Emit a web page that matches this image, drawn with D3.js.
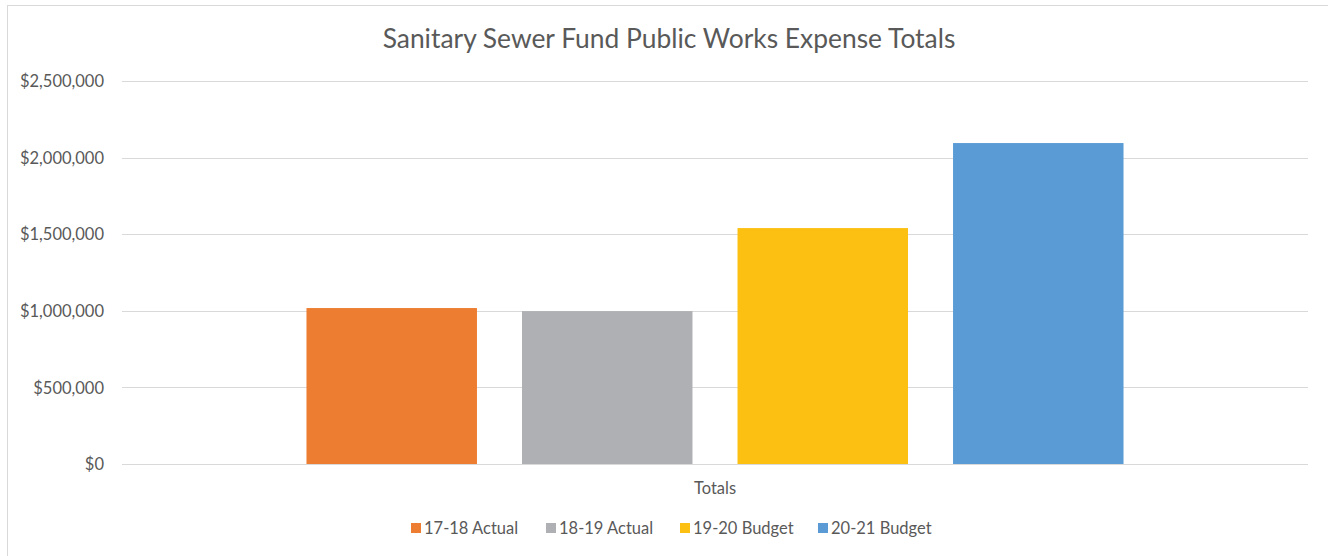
<!DOCTYPE html>
<html>
<head>
<meta charset="utf-8">
<script src="https://cdn.jsdelivr.net/npm/d3@7"></script>
<style>
  body { margin: 0; background: #fff; font-family: Lato, "Open Sans", sans-serif; }
  .grid line { stroke: #d9d9d9; stroke-width: 1px; shape-rendering: crispEdges; }
  .grid path { display: none; }
  .yaxis path, .yaxis line { display: none; }
  .yaxis text { fill: #595959; font-size: 16.5px; font-family: Lato, sans-serif; }
  .title { fill: #595959; font-size: 26.4px; }
  .cat { fill: #595959; font-size: 16.5px; }
  .legend text { fill: #595959; font-size: 16.5px; }
</style>
</head>
<body>
<svg id="chart" width="1328" height="556"></svg>
<script>
// values
var categories = ["Totals"];
var seriesNames = ["17-18 Actual", "18-19 Actual", "19-20 Budget", "20-21 Budget"];
var seriesValues = [1018000, 998000, 1540000, 2095000];
var seriesColors = ["#ed7d31", "#afb0b3", "#fbc012", "#5b9bd5"];
var yTicks = [0, 500000, 1000000, 1500000, 2000000, 2500000];

var svg = d3.select("#chart");
var plotLeft = 122, plotRight = 1308, plotTop = 81, plotBottom = 464;

// outer chart frame
svg.append("rect")
    .attr("x", 7.5).attr("y", 5.5)
    .attr("width", 1340).attr("height", 600)
    .attr("fill", "none").attr("stroke", "#d9d9d9");

var y = d3.scaleLinear().domain([0, 2500000]).range([plotBottom, plotTop]);
var x0 = d3.scaleBand().domain(categories).range([plotLeft, plotRight])
    .paddingInner(0).paddingOuter(0.2258);
var x1 = d3.scaleBand().domain(seriesNames).range([0, x0.bandwidth()])
    .paddingInner(0.209).paddingOuter(0);

svg.append("g").attr("class", "grid")
    .attr("transform", "translate(" + plotLeft + ",0)")
    .call(d3.axisLeft(y).tickValues(yTicks).tickSize(-(plotRight - plotLeft)).tickFormat(""));

svg.append("g").attr("class", "yaxis")
    .attr("transform", "translate(" + plotLeft + ",0)")
    .call(d3.axisLeft(y).tickValues(yTicks).tickSize(0).tickPadding(18)
        .tickFormat(function(d) { return "$" + d3.format(",")(d); }))
    .selectAll("text").attr("dy", "0.35em");

var group = svg.selectAll("g.cat-group")
    .data(categories)
  .enter().append("g")
    .attr("class", "cat-group")
    .attr("transform", function(d) { return "translate(" + x0(d) + ",0)"; });

group.selectAll("rect")
    .data(seriesNames.map(function(n, i) { return {name: n, value: seriesValues[i], color: seriesColors[i]}; }))
  .enter().append("rect")
    .attr("x", function(d) { return x1(d.name); })
    .attr("width", x1.bandwidth())
    .attr("y", function(d) { return y(d.value); })
    .attr("height", function(d) { return y(0) - y(d.value); })
    .attr("fill", function(d) { return d.color; });

svg.selectAll("text.cat")
    .data(categories)
  .enter().append("text")
    .attr("class", "cat")
    .attr("x", function(d) { return x0(d) + x0.bandwidth() / 2; })
    .attr("y", 494)
    .attr("text-anchor", "middle")
    .text(function(d) { return d; });

svg.append("text").attr("class", "title")
    .attr("x", 669).attr("y", 48)
    .attr("text-anchor", "middle")
    .text("Sanitary Sewer Fund Public Works Expense Totals");

// legend
var legendX = [411, 546, 680, 818];
var legend = svg.append("g").attr("class", "legend");
var item = legend.selectAll("g")
    .data(seriesNames)
  .enter().append("g")
    .attr("transform", function(d, i) { return "translate(" + legendX[i] + ",523)"; });
item.append("rect")
    .attr("width", 10).attr("height", 10)
    .attr("fill", function(d, i) { return seriesColors[i]; });
item.append("text")
    .attr("x", 13).attr("y", 10.5)
    .text(function(d) { return d; });
</script>
</body>
</html>
